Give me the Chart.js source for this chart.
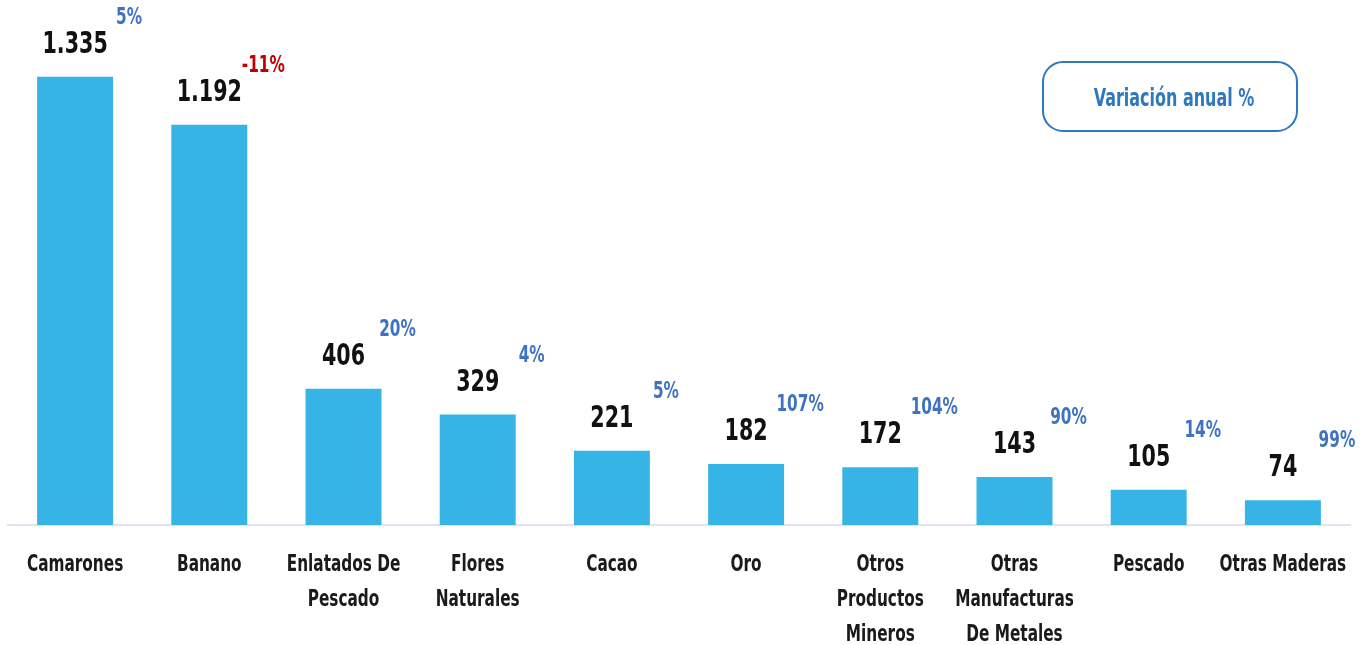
<!DOCTYPE html>
<html>
<head>
<meta charset="utf-8">
<script src="https://cdn.jsdelivr.net/npm/chart.js@4/dist/chart.umd.min.js"></script>
<style>
  html, body { margin: 0; padding: 0; background: #fff; }
  #wrap { width: 1360px; height: 645px; position: relative; }
</style>
</head>
<body>
<div id="wrap"><canvas id="exportChart"></canvas></div>
<script>
  const categories = [
    'Camarones', 'Banano', ['Enlatados De', 'Pescado'], ['Flores', 'Naturales'], 'Cacao',
    'Oro', ['Otros', 'Productos', 'Mineros'], ['Otras', 'Manufacturas', 'De Metales'], 'Pescado', 'Otras Maderas'
  ];
  const values = [1335, 1192, 406, 329, 221, 182, 172, 143, 105, 74];
  const variation = [5, -11, 20, 4, 5, 107, 104, 90, 14, 99];
  const legendText = 'Variación anual %';

  // no narrow font installed, so squeeze DejaVu Condensed a bit
  const font = "'DejaVu Sans Condensed', 'DejaVu Sans', sans-serif";
  const squeeze = 0.74;

  function fmt(v) {
    return String(v).replace(/\B(?=(\d{3})+(?!\d))/g, '.');
  }

  function narrowText(ctx, text, x, y) {
    ctx.save();
    ctx.translate(x, y);
    ctx.scale(squeeze, 1);
    ctx.fillText(text, 0, 0);
    ctx.restore();
  }

  const labelPlugin = {
    id: 'labels',
    afterDatasetsDraw(chart) {
      const ctx = chart.ctx;
      const meta = chart.getDatasetMeta(0);
      const xScale = chart.scales.x;
      const bottom = chart.chartArea.bottom;
      ctx.save();
      ctx.textAlign = 'center';
      ctx.textBaseline = 'middle';

      meta.data.forEach((bar, i) => {
        ctx.fillStyle = '#111';
        ctx.font = 'bold 31px ' + font;
        narrowText(ctx, fmt(values[i]), bar.x, bar.y - 32);
        ctx.font = 'bold 23px ' + font;
        ctx.fillStyle = variation[i] < 0 ? '#c00000' : '#3f73c2';
        narrowText(ctx, variation[i] + '%', bar.x + 54, bar.y - 59);
      });

      // category labels under the axis
      ctx.fillStyle = '#1a1a1a';
      ctx.font = 'bold 23px ' + font;
      categories.forEach((c, i) => {
        const x = xScale.getPixelForValue(i);
        const lines = Array.isArray(c) ? c : [c];
        lines.forEach((line, j) => narrowText(ctx, line, x, bottom + 40 + j * 35));
      });

      // note box
      const x = 1043, y = 62, w = 254, h = 69, r = 20;
      ctx.beginPath();
      ctx.roundRect(x, y, w, h, r);
      ctx.lineWidth = 2;
      ctx.strokeStyle = '#2e78c0';
      ctx.stroke();
      ctx.fillStyle = '#2e78c0';
      ctx.font = 'bold 24px ' + font;
      narrowText(ctx, legendText, x + w / 2 + 4, y + h / 2 + 3);
      ctx.restore();
    }
  };

  new Chart(document.getElementById('exportChart'), {
    type: 'bar',
    data: {
      labels: categories,
      datasets: [{
        data: values,
        backgroundColor: '#36b4e6',
        categoryPercentage: 1,
        barPercentage: 0.566
      }]
    },
    options: {
      responsive: true,
      maintainAspectRatio: false,
      animation: false,
      layout: { padding: { left: 8, right: 10, top: 0, bottom: 0 } },
      plugins: { legend: { display: false }, tooltip: { enabled: false } },
      scales: {
        x: {
          grid: { display: false, drawTicks: false },
          border: { display: true, color: '#e2e2ee', width: 2 },
          ticks: { display: false },
          afterFit(scale) {
            scale.height = 120;
            scale.paddingLeft = 0;
            scale.paddingRight = 0;
          }
        },
        y: {
          display: false,
          min: 0,
          max: 1564
        }
      }
    },
    plugins: [labelPlugin]
  });
</script>
</body>
</html>
